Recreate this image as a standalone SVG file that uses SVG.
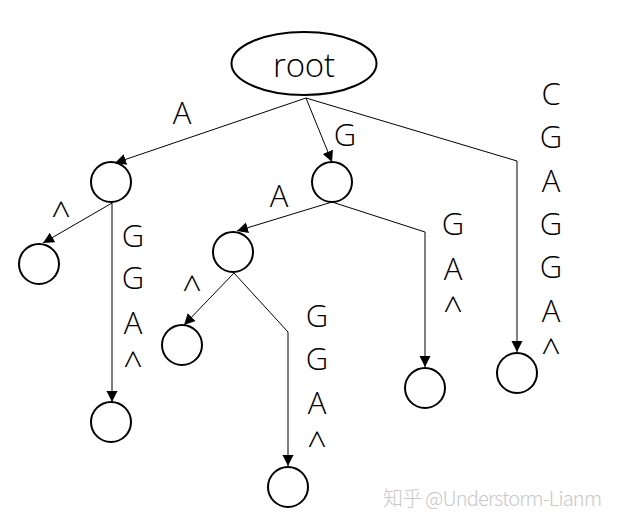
<svg xmlns="http://www.w3.org/2000/svg" width="620" height="525" viewBox="0 0 620 525">
<style>
.n{fill:none;stroke:#000;stroke-width:2}
.e{fill:none;stroke:#000;stroke-width:1}
.t{font-family:"Open Sans","Liberation Sans",sans-serif;font-weight:300;font-size:31px;fill:#000;text-anchor:middle}
.c{font-family:"Open Sans","Liberation Sans",sans-serif;font-weight:300;font-size:34px;fill:#000;text-anchor:middle}
.w{font-family:"Noto Sans CJK SC","Liberation Sans",sans-serif;font-weight:300;font-size:20px;fill:#c8c8c8}
</style>
<defs>
<marker id="ah" markerUnits="userSpaceOnUse" markerWidth="12" markerHeight="12" refX="11" refY="6" orient="auto">
<path d="M0,0.5 L11,6 L0,11.5 Z" fill="#000"/>
</marker>
</defs>
<rect width="620" height="525" fill="#fff"/>
<g id="connectors">
<path class="e" d="M306,98 L115,163" marker-end="url(#ah)"/>
<path class="e" d="M306,98 L332,162" marker-end="url(#ah)"/>
<path class="e" d="M306,98 L517,161 L517,352" marker-end="url(#ah)"/>
<path class="e" d="M112,203 L43,243" marker-end="url(#ah)"/>
<path class="e" d="M112,202 L112,402" marker-end="url(#ah)"/>
<path class="e" d="M332,202 L237,231" marker-end="url(#ah)"/>
<path class="e" d="M332,202 L425,232 L425,367" marker-end="url(#ah)"/>
<path class="e" d="M234,273 L184,325" marker-end="url(#ah)"/>
<path class="e" d="M234,273 L288,332 L288,466" marker-end="url(#ah)"/>
</g>
<g id="root"><ellipse class="n" cx="304" cy="63.5" rx="72.5" ry="31.5"/><text class="t" x="304" y="77" style="font-size:33px" textLength="62">root</text></g>
<g id="nA"><circle class="n" cx="111" cy="182" r="20"/></g>
<g id="nG"><circle class="n" cx="332" cy="182" r="20"/></g>
<g id="nA_end"><circle class="n" cx="39" cy="264" r="20"/></g>
<g id="nAGGA"><circle class="n" cx="111" cy="422" r="20"/></g>
<g id="nGA"><circle class="n" cx="233" cy="252" r="20"/></g>
<g id="nGGA"><circle class="n" cx="425" cy="388" r="20"/></g>
<g id="nGA_end"><circle class="n" cx="182" cy="345" r="20"/></g>
<g id="nGAGGA"><circle class="n" cx="288" cy="487" r="20"/></g>
<g id="nCGAGGA"><circle class="n" cx="517" cy="373" r="20"/></g>
<g id="labels">
<text class="t" x="182" y="124">A</text>
<text class="t" x="345" y="146">G</text>
<text class="t" x="551" y="105">C</text>
<text class="t" x="551" y="148">G</text>
<text class="t" x="551" y="192">A</text>
<text class="t" x="551" y="235">G</text>
<text class="t" x="551" y="278">G</text>
<text class="t" x="551" y="322">A</text>
<text class="c" x="551" y="364">^</text>
<text class="c" x="61" y="227">^</text>
<text class="t" x="133" y="247">G</text>
<text class="t" x="133" y="289">G</text>
<text class="t" x="133" y="334">A</text>
<text class="c" x="133" y="377">^</text>
<text class="t" x="279" y="207">A</text>
<text class="t" x="453" y="235">G</text>
<text class="t" x="453" y="280">A</text>
<text class="c" x="453" y="322">^</text>
<text class="c" x="192" y="301">^</text>
<text class="t" x="317" y="327">G</text>
<text class="t" x="317" y="370">G</text>
<text class="t" x="317" y="414">A</text>
<text class="c" x="317" y="457">^</text>
</g>
<text class="w" x="383" y="506" textLength="219">知乎 @Understorm-Lianm</text>
</svg>
